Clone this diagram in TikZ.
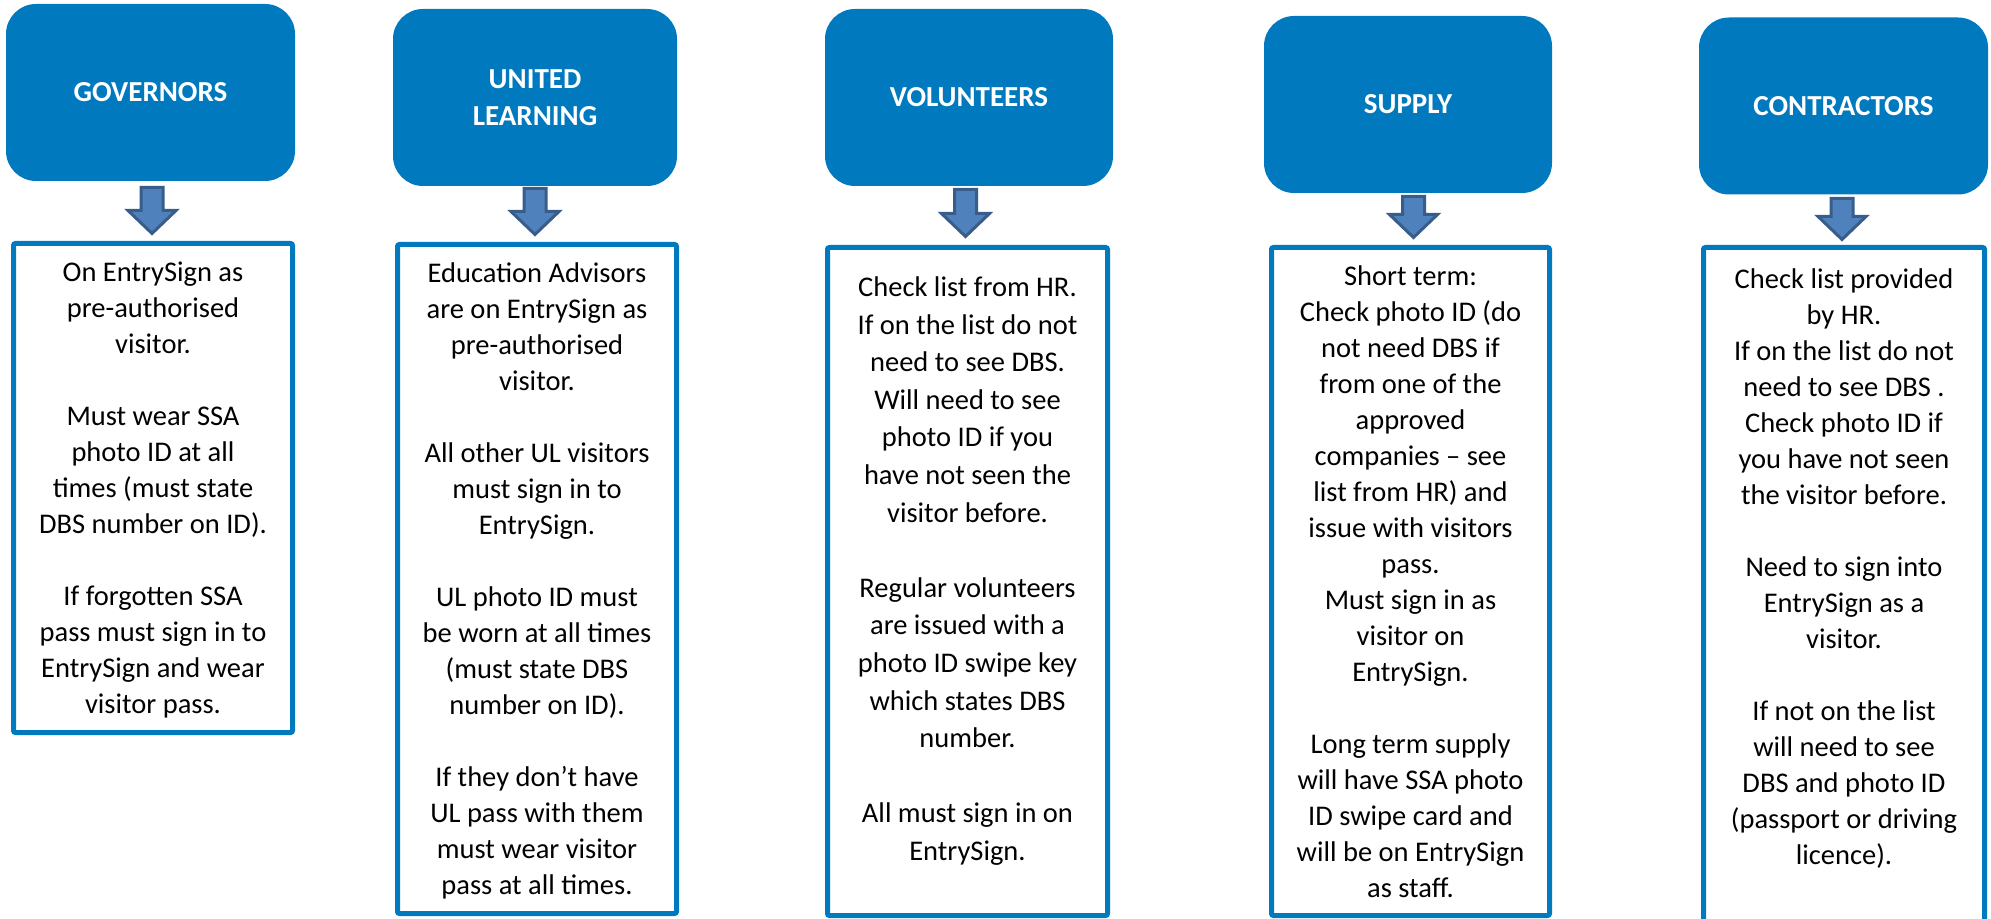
\documentclass[tikz,border=0pt]{standalone}
\usepackage{fontspec}
\setmainfont{Carlito}
\usetikzlibrary{calc}
\definecolor{headblue}{RGB}{0,121,190}
\definecolor{arrfill}{RGB}{79,129,189}
\definecolor{arrdraw}{RGB}{56,93,138}
\newcommand\blockarrow[2]{%
  \draw[barrow] let \p1=(#1), \p2=(#2) in
    (\x1-5.5pt,\y1) -- (\x1+5.5pt,\y1) -- (\x1+5.5pt,\y2+11.5pt) --
    (\x1+12pt,\y2+11.5pt) -- (\x1,\y2) -- (\x1-12pt,\y2+11.5pt) --
    (\x1-5.5pt,\y2+11.5pt) -- cycle;}
\begin{document}
\begin{tikzpicture}[x=0.5pt,y=-0.5pt,
  header/.style={fill=headblue, rounded corners=15pt, minimum height=88.5pt,
    inner sep=0pt, text=white, align=center,
    font=\fontsize{14.5pt}{18.5pt}\selectfont\bfseries},
  bodybox/.style={draw=headblue, line width=2.5pt, rounded corners=1pt, inner sep=0pt},
  bodytext/.style={font=\fontsize{14.25pt}{18pt}\selectfont, align=center,
    text=black, inner sep=0pt},
  barrow/.style={fill=arrfill, draw=arrdraw, line width=1.5pt, line join=miter}]
\useasboundingbox (0,0) rectangle (1991,919);

% headers
\node[header, minimum width=144.5pt] (h1) at (150.5,92.5) {GOVERNORS};
\node[header, minimum width=142pt] (h2) at (535,97.5) {UNITED\\LEARNING};
\node[header, minimum width=144pt] (h3) at (969,97.5) {VOLUNTEERS};
\node[header, minimum width=144pt] (h4) at (1408,104.5) {SUPPLY};
\node[header, minimum width=144.5pt] (h5) at (1843.5,106) {CONTRACTORS};

% body boxes
\node[bodybox, minimum width=139.5pt, minimum height=244.5pt] (b1) at (153,488) {};
\node[bodybox, minimum width=139.5pt, minimum height=334.5pt] (b2) at (537,579) {};
\node[bodybox, minimum width=140pt, minimum height=334pt] (b3) at (967.5,581.5) {};
\node[bodybox, minimum width=139pt, minimum height=334pt] (b4) at (1410.5,581.5) {};
\node[bodybox, minimum width=140.5pt, minimum height=342.5pt] (b5) at (1844,590) {};

% body texts
\node[bodytext] (t1) at (153,489.5) {On EntrySign as\\pre-authorised\\visitor.\\[18pt]
Must wear SSA\\photo ID at all\\times (must state\\DBS number on ID).\\[18pt]
If forgotten SSA\\pass must sign in to\\EntrySign and wear\\visitor pass.};

\node[bodytext] (t2) at (537,580.5) {Education Advisors\\are on EntrySign as\\pre-authorised\\visitor.\\[18pt]
All other UL visitors\\must sign in to\\EntrySign.\\[18pt]
UL photo ID must\\be worn at all times\\(must state DBS\\number on ID).\\[18pt]
If they don’t have\\UL pass with them\\must wear visitor\\pass at all times.};

\node[bodytext, font=\fontsize{14.25pt}{18.8pt}\selectfont] (t3) at (967.5,571) {Check list from HR.\\If on the list do not\\need to see DBS.\\Will need to see\\photo ID if you\\have not seen the\\visitor before.\\[18.8pt]
Regular volunteers\\are issued with a\\photo ID swipe key\\which states DBS\\number.\\[18.8pt]
All must sign in on\\EntrySign.};

\node[bodytext] (t4) at (1410.5,582) {Short term:\\Check photo ID (do\\not need DBS if\\from one of the\\approved\\companies – see\\list from HR) and\\issue with visitors\\pass.\\Must sign in as\\visitor on\\EntrySign.\\[18pt]
Long term supply\\will have SSA photo\\ID swipe card and\\will be on EntrySign\\as staff.};

\node[bodytext] (t5) at (1844,569) {Check list provided\\by HR.\\If on the list do not\\need to see DBS .\\Check photo ID if\\you have not seen\\the visitor before.\\[18pt]
Need to sign into\\EntrySign as a\\visitor.\\[18pt]
If not on the list\\will need to see\\DBS and photo ID\\(passport or driving\\licence).};

% arrow ends
\coordinate (a1s) at (152,187.5);   \coordinate (a1e) at (152,233.5);
\coordinate (a2s) at (535,188.5);   \coordinate (a2e) at (535,234.5);
\coordinate (a3s) at (965.5,189.5); \coordinate (a3e) at (965.5,236.5);
\coordinate (a4s) at (1413.5,196.5);\coordinate (a4e) at (1413.5,237.5);
\coordinate (a5s) at (1842,198.5);  \coordinate (a5e) at (1842,239.5);
\blockarrow{a1s}{a1e}
\blockarrow{a2s}{a2e}
\blockarrow{a3s}{a3e}
\blockarrow{a4s}{a4e}
\blockarrow{a5s}{a5e}
\end{tikzpicture}
\end{document}
